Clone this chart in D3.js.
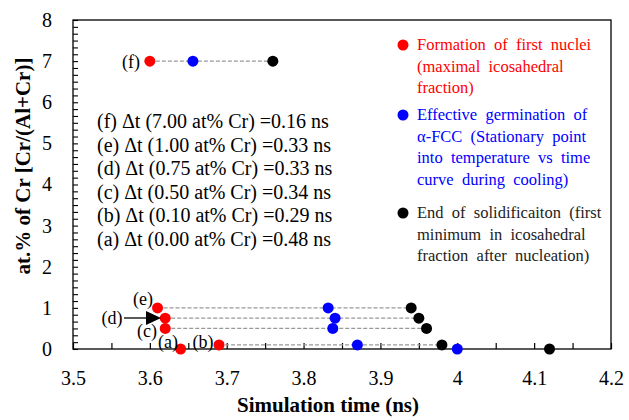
<!DOCTYPE html>
<html>
<head>
<meta charset="utf-8">
<script src="https://cdn.jsdelivr.net/npm/d3@7"></script>
</head>
<body style="margin:0;background:#fff">
<svg id="chart" width="629" height="420" style="display:block"></svg>
<script>
// one entry per alloy composition (a)..(f)
const cases = ["(a)", "(b)", "(c)", "(d)", "(e)", "(f)"]
const crContent = [0, 0.1, 0.5, 0.75, 1, 7]
const firstNuclei = [3.64, 3.69, 3.62, 3.62, 3.61, 3.60]   // red
const germination = [4.00, 3.87, 3.838, 3.841, 3.832, 3.656] // blue
const endSolid = [4.12, 3.98, 3.96, 3.95, 3.94, 3.76]      // black
const deltaT = ["0.48", "0.29", "0.34", "0.33", "0.33", "0.16"]
const crLabel = ["0.00", "0.10", "0.50", "0.75", "1.00", "7.00"]

const xTicks = [3.5, 3.6, 3.7, 3.8, 3.9, 4.0, 4.1, 4.2]
const yTicks = [0, 1, 2, 3, 4, 5, 6, 7, 8]

const FONT = 'Liberation Serif'
const svg = d3.select('#chart')
const plotL = 73, plotR = 611, plotT = 20, plotB = 349

const x = d3.scaleLinear().domain([3.5, 4.2]).range([plotL, plotR])
const y = d3.scaleLinear().domain([0, 8]).range([plotB, plotT])

// frame
svg.append('rect')
    .attr('x', plotL).attr('y', plotT)
    .attr('width', plotR - plotL).attr('height', plotB - plotT)
    .attr('fill', 'none').attr('stroke', '#000').attr('stroke-width', 1.3)

// minor ticks (inside)
const xMinor = d3.range(0, 15).map(i => 3.5 + i * 0.05)
const yMinor = d3.range(0, 49).map(i => i / 6)

svg.append('g')
    .attr('transform', `translate(0,${plotB})`)
    .call(d3.axisTop(x).tickValues(xMinor).tickSize(6).tickFormat(''))
    .call(g => g.select('.domain').remove())
    .selectAll('line').attr('stroke', '#000').attr('stroke-width', 1.2)

svg.append('g')
    .attr('transform', `translate(${plotL},0)`)
    .call(d3.axisRight(y).tickValues(yMinor).tickSize(5).tickFormat(''))
    .call(g => g.select('.domain').remove())
    .selectAll('line').attr('stroke', '#000').attr('stroke-width', 1.1)

// tick labels
svg.append('g')
    .attr('transform', `translate(0,${plotB})`)
    .call(d3.axisBottom(x).tickValues(xTicks).tickSize(0).tickPadding(22).tickFormat(d3.format('~g')))
    .call(g => g.select('.domain').remove())
    .selectAll('text')
    .style('font-family', FONT)
    .attr('font-size', 20).attr('fill', '#000')

svg.append('g')
    .attr('transform', `translate(${plotL},0)`)
    .call(d3.axisLeft(y).tickValues(yTicks).tickSize(0).tickPadding(21).tickFormat(d3.format('~g')))
    .call(g => g.select('.domain').remove())
    .selectAll('text')
    .style('font-family', FONT)
    .attr('font-size', 20).attr('fill', '#000')

// axis titles
svg.append('text')
    .attr('x', 328).attr('y', 412)
    .attr('text-anchor', 'middle')
    .style('font-family', FONT)
    .attr('font-weight', 'bold').attr('font-size', 21)
    .text('Simulation time (ns)')

svg.append('text')
    .attr('transform', 'translate(30,166) rotate(-90)')
    .attr('text-anchor', 'middle')
    .style('font-family', FONT)
    .attr('font-weight', 'bold').attr('font-size', 21)
    .text('at.% of Cr [Cr/(Al+Cr)]')

// dashed connectors red -> black
const idx = d3.range(cases.length).filter(i => crContent[i] > 0)
svg.append('g')
    .selectAll('line')
    .data(idx)
    .join('line')
    .attr('x1', i => x(firstNuclei[i]))
    .attr('x2', i => x(endSolid[i]))
    .attr('y1', i => y(crContent[i]))
    .attr('y2', i => y(crContent[i]))
    .attr('stroke', '#999').attr('stroke-width', 1.2)
    .attr('stroke-dasharray', '4,2')

// points
const series = [
    {vals: firstNuclei, color: '#ff0000'},
    {vals: germination, color: '#0000ff'},
    {vals: endSolid, color: '#000000'}
]
series.forEach(s => {
    svg.append('g')
        .selectAll('circle')
        .data(d3.range(cases.length))
        .join('circle')
        .attr('cx', i => x(s.vals[i]))
        .attr('cy', i => y(crContent[i]))
        .attr('r', 5.5)
        .attr('fill', s.color)
})

// case labels next to the points
const labelPos = {
    "(a)": [168, 348], "(b)": [203, 348], "(c)": [147, 337],
    "(d)": [112, 324], "(e)": [143, 305], "(f)": [131, 68]
}
svg.append('g')
    .selectAll('text')
    .data(cases)
    .join('text')
    .attr('x', d => labelPos[d][0])
    .attr('y', d => labelPos[d][1])
    .attr('text-anchor', 'middle')
    .style('font-family', FONT)
    .attr('font-size', 18)
    .text(d => d)

// arrow for (d)
svg.append('line')
    .attr('x1', 124).attr('x2', 148)
    .attr('y1', 318).attr('y2', 318)
    .attr('stroke', '#000').attr('stroke-width', 1.3)
svg.append('path')
    .attr('d', 'M146,311 L161,318 L146,325 Z')
    .attr('fill', '#000')

// delta t summary block
const summary = d3.range(cases.length).reverse()
svg.append('g')
    .selectAll('text')
    .data(summary)
    .join('text')
    .attr('x', 97)
    .attr('y', (d, k) => 128 + k * 23.5)
    .style('font-family', FONT)
    .attr('font-size', 20)
    .text(i => `${cases[i]} \u0394t (${crLabel[i]} at% Cr) =${deltaT[i]} ns`)

// legend
const legend = [
    {color: '#ff0000', y: 45, lines: ['Formation  of  first  nuclei', '(maximal  icosahedral', 'fraction)']},
    {color: '#0000ff', y: 115, lines: ['Effective  germination  of', '\u03b1-FCC  (Stationary  point', 'into  temperature  vs  time', 'curve  during  cooling)']},
    {color: '#000000', y: 213, lines: ['End  of  solidificaiton  (first', 'minimum  in  icosahedral', 'fraction  after  nucleation)']}
]
legend.forEach(l => {
    svg.append('circle')
        .attr('cx', 403).attr('cy', l.y).attr('r', 5.5).attr('fill', l.color)
    svg.append('g')
        .selectAll('text')
        .data(l.lines)
        .join('text')
        .attr('x', 417)
        .attr('y', (d, k) => l.y + 5 + k * 21.7)
        .style('font-family', FONT)
        .style('white-space', 'pre')
        .attr('font-size', 16.5)
        .attr('fill', l.color === '#000000' ? '#222' : l.color)
        .text(d => d)
})
</script>
</body>
</html>
